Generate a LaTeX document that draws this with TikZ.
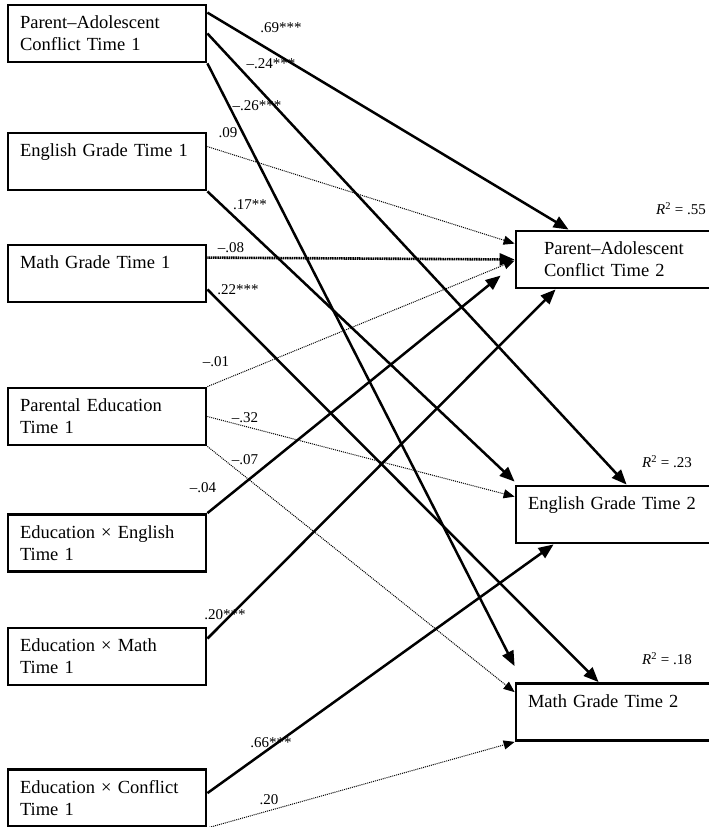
\documentclass[tikz,border=0pt]{standalone}
\usepackage{fontspec}
\setmainfont{Liberation Serif}
\usetikzlibrary{arrows.meta}

\tikzset{
  box/.style={draw, rectangle, line width=2.8pt, minimum width=198pt, minimum height=57pt,
    text width=174pt, align=left, inner sep=0pt, font=\fontsize{18.5}{22}\selectfont},
  outbox/.style={box, minimum width=196pt, text width=172pt},
  coef/.style={inner sep=0pt, font=\fontsize{15}{15}\selectfont},
  sig/.style={line width=2.5pt, -{Triangle[length=15pt,width=12pt]}},
  ns/.style={line width=1pt, dash pattern=on 1pt off 1pt, -{Triangle[length=11pt,width=9pt]}},
  nsthick/.style={line width=2.6pt, dash pattern=on 1.2pt off 0.6pt, -{Triangle[length=15pt,width=12pt]}},
}

\begin{document}
\begin{tikzpicture}[x=1pt,y=-1pt]
\useasboundingbox (0,0) rectangle (709,827);
% predictors at time 1
\node[box] (p1) at (107,33.5) {Parent--Adolescent\\Conflict Time 1};
\node[box] (e1) at (107,161.5) {English Grade Time 1\\\mbox{}};
\node[box] (m1) at (107,273.5) {Math Grade Time 1\\\mbox{}};
\node[box] (pe) at (107,416.5) {Parental Education\\Time 1};
\node[box] (ee) at (107,543) {Education × English\\Time 1};
\node[box] (em) at (107,656.5) {Education × Math\\Time 1};
\node[box] (ec) at (107,798) {Education × Conflict\\Time 1};
% outcomes at time 2
\node[outbox, text width=140pt] (p2) at (614,259.5) {Parent--Adolescent\\Conflict Time 2};
\node[outbox] (e2) at (614,514.5) {English Grade Time 2\\\mbox{}};
\node[outbox] (m2) at (614,712) {Math Grade Time 2\\\mbox{}};
\node[coef] (r55) at (681,209) {\textit{R}\textsuperscript{2} = .55};
\node[coef] (r23) at (667,462) {\textit{R}\textsuperscript{2} = .23};
\node[coef] (r18) at (667,659) {\textit{R}\textsuperscript{2} = .18};

% paths
\draw[sig] ([yshift=-9pt]p1.north east) -- ([xshift=54pt]p2.north west);
\draw[sig] (p1.east) -- ([xshift=112pt]e2.north west);
\draw[sig] (p1.south east) -- ([yshift=16pt]m2.north west);
\draw[ns] ([yshift=-15pt]e1.north east) -- ([yshift=-14pt]p2.north west);
\draw[sig] (e1.south east) -- ([yshift=3pt]e2.north west);
\draw[nsthick] ([yshift=-14pt]m1.north east) -- (p2.west);
\draw[sig] ([yshift=14pt]m1.south east) -- ([xshift=84pt]m2.north west);
\draw[ns] (pe.north east) -- ([yshift=-31pt]p2.north west);
\draw[ns] (pe.east) -- ([yshift=-12pt]e2.north west);
\draw[ns] (pe.south east) -- ([yshift=-10pt]m2.north west);
\draw[sig] (ee.north east) -- ([xshift=-14pt,yshift=-46pt]p2.north west);
\draw[sig] ([yshift=-12pt]em.north east) -- ([xshift=41pt]p2.south west);
\draw[sig] ([yshift=-25pt]ec.north east) -- ([xshift=39pt]e2.south west);
\draw[ns] (ec.south east) -- (m2.south west);

% coefficients
\node[coef] (c69) at (281,28) {.69***};
\node[coef] (c24) at (271,64) {--.24***};
\node[coef] (c26) at (257,106) {--.26***};
\node[coef] (c09) at (228,133) {.09};
\node[coef] (c17) at (250,205) {.17**};
\node[coef] (c08) at (231,248) {--.08};
\node[coef] (c22) at (238,290) {.22***};
\node[coef] (c01) at (216,362) {--.01};
\node[coef] (c32) at (245,418) {--.32};
\node[coef] (c07) at (245,460) {--.07};
\node[coef] (c04) at (203,488) {--.04};
\node[coef] (c20m) at (225,615) {.20***};
\node[coef] (c66) at (271,743) {.66***};
\node[coef] (c20c) at (269,800) {.20};
\end{tikzpicture}
\end{document}
